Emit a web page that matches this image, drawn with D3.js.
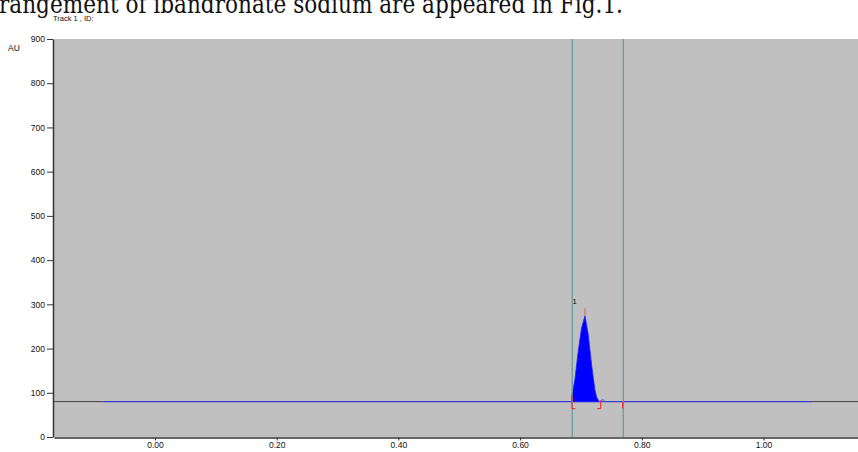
<!DOCTYPE html>
<html lang="en">
<head>
<meta charset="utf-8">
<title>Track 1 densitogram</title>
<style>
  body { margin: 0; background: #fff; }
  svg { display: block; }
  .tick text { font-family: Arial, "Liberation Sans", sans-serif; font-size: 8.5px; fill: #111; }
</style>
</head>
<body>
<svg id="chart" width="858" height="452"></svg>
<script src="https://cdn.jsdelivr.net/npm/d3@7"></script>
<script>
// chart data
var yTicks = [0, 100, 200, 300, 400, 500, 600, 700, 800, 900];
var xTicks = [0.00, 0.20, 0.40, 0.60, 0.80, 1.00];
var baselineAU = 80;
var peakRf = [0.6853, 0.6853, 0.6900, 0.6954, 0.7010, 0.7067, 0.7121, 0.7176, 0.7204, 0.7231, 0.7258, 0.7300];
var peakAU = [80, 95, 129, 192, 246, 274, 231, 163, 133, 106, 90, 80];
var bumpRf = [0.7300, 0.7330, 0.7362, 0.7395];
var bumpAU = [80, 82, 85, 80];
var cursorRf = [0.6857, 0.7696];
var darkSegs = [[-0.166, -0.085], [1.080, 1.160]];
var blueSeg = [-0.085, 1.080];

var W = 858;
var padL = 54, padT = 39, padB = 437;

var svg = d3.select("#chart");

var x = d3.scaleLinear().domain([-0.1660, 1.1554]).range([padL, W]);
var y = d3.scaleLinear().domain([0, 900]).range([padB, padT]);

// caption text cut off at the top of the crop
svg.append("text")
    .attr("x", -1).attr("y", 12.5)
    .attr("font-family", "'DejaVu Serif', 'Liberation Serif', serif")
    .attr("font-size", 26)
    .attr("textLength", 624)
    .attr("lengthAdjust", "spacingAndGlyphs")
    .attr("fill", "#111")
    .text("rangement of ibandronate sodium are appeared in Fig.1.");

svg.append("text")
    .attr("x", 53).attr("y", 21)
    .attr("font-family", "Arial, 'Liberation Sans', sans-serif")
    .attr("font-size", 7.5)
    .attr("fill", "#111")
    .text("Track  1 , ID:");

svg.append("text")
    .attr("x", 8).attr("y", 50.5)
    .attr("font-family", "Arial, 'Liberation Sans', sans-serif")
    .attr("font-size", 8.5)
    .attr("fill", "#111")
    .text("AU");

// plot background
svg.append("rect")
    .attr("x", padL).attr("y", padT)
    .attr("width", W - padL).attr("height", padB - padT)
    .attr("fill", "#c0c0c0");

// axes
svg.append("g")
    .attr("transform", "translate(" + (padL - 1) + ",0)")
    .call(d3.axisLeft(y).tickValues(yTicks).tickSize(6).tickPadding(2).tickSizeOuter(0))
    .call(g => g.select(".domain").attr("stroke", "#333").attr("stroke-width", 1.5))
    .call(g => g.selectAll(".tick line").attr("stroke", "#333"));

svg.append("g")
    .attr("transform", "translate(0," + (padB + 0.5) + ")")
    .call(d3.axisBottom(x).tickValues(xTicks).tickFormat(d3.format(".2f")).tickSize(3).tickPadding(1).tickSizeOuter(0))
    .call(g => g.select(".domain").attr("stroke", "#333").attr("stroke-width", 1.5))
    .call(g => g.selectAll(".tick line").attr("stroke", "#333"));

// baseline
var plot = svg.append("g");
plot.selectAll(".dark")
    .data(darkSegs)
    .enter().append("line")
    .attr("x1", d => x(d[0])).attr("x2", d => x(d[1]))
    .attr("y1", y(baselineAU)).attr("y2", y(baselineAU))
    .attr("stroke", "#404040").attr("stroke-width", 1);

plot.append("line")
    .attr("x1", x(blueSeg[0])).attr("x2", x(blueSeg[1]))
    .attr("y1", y(baselineAU)).attr("y2", y(baselineAU))
    .attr("stroke", "#3a3ad6").attr("stroke-width", 1.1);

// peak
var peak = peakRf.map((r, i) => [r, peakAU[i]]);
plot.append("path")
    .datum(peak)
    .attr("d", d3.area().x(d => x(d[0])).y0(y(baselineAU)).y1(d => y(d[1])))
    .attr("fill", "#0000ff")
    .attr("stroke", "#2020ff").attr("stroke-width", 0.8);

var bump = bumpRf.map((r, i) => [r, bumpAU[i]]);
plot.append("path")
    .datum(bump)
    .attr("d", d3.line().x(d => x(d[0])).y(d => y(d[1])))
    .attr("fill", "none")
    .attr("stroke", "#5060e0").attr("stroke-width", 1);

// cursor lines
plot.selectAll(".cursor")
    .data(cursorRf)
    .enter().append("line")
    .attr("x1", d => x(d)).attr("x2", d => x(d))
    .attr("y1", padT).attr("y2", padB)
    .attr("stroke", "#5f9a9a").attr("stroke-width", 1.2);

// peak max marker and label
var maxI = d3.maxIndex(peakAU);
plot.append("line")
    .attr("x1", x(peakRf[maxI])).attr("x2", x(peakRf[maxI]))
    .attr("y1", y(peakAU[maxI]) - 8).attr("y2", y(peakAU[maxI]))
    .attr("stroke", "#e06060").attr("stroke-width", 1);

plot.append("text")
    .attr("x", x(peakRf[0]) + 0.5).attr("y", y(peakAU[maxI]) - 12)
    .attr("font-family", "Arial, 'Liberation Sans', sans-serif")
    .attr("font-size", 7.5)
    .text("1");

// integration markers
var yb = y(baselineAU), yl = yb + 7;
var red = "#ff2020";
var s = x(peakRf[0]), e = x(peakRf[peakRf.length - 1]) + 1.5, c = x(cursorRf[1]) - 0.5;
plot.append("path")
    .attr("d", "M" + s + "," + (y(peakAU[1])) + "V" + yl + "H" + (s + 3.5))
    .attr("fill", "none").attr("stroke", red).attr("stroke-width", 1);
plot.append("path")
    .attr("d", "M" + e + "," + (yb - 1) + "V" + yl + "H" + (e - 3.5))
    .attr("fill", "none").attr("stroke", red).attr("stroke-width", 1);
plot.append("path")
    .attr("d", "M" + c + "," + (yb + 0.5) + "V" + yl)
    .attr("fill", "none").attr("stroke", red).attr("stroke-width", 1.2);
</script>
</body>
</html>
